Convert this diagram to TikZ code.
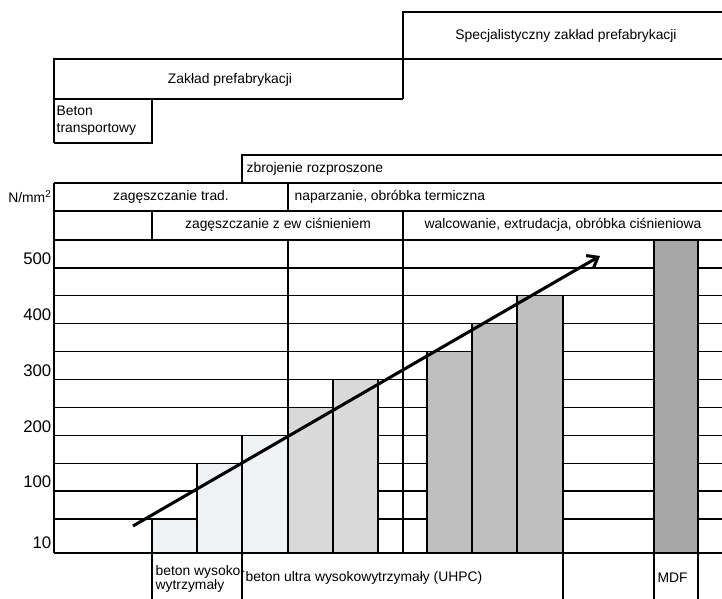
\documentclass[tikz,border=0pt]{standalone}
\usepackage{fontspec}
\setmainfont{Liberation Sans}
\usetikzlibrary{arrows.meta}
\definecolor{barlight}{HTML}{EEF2F3}
\definecolor{barmid}{HTML}{D9D9D9}
\definecolor{bardark}{HTML}{BFBFBF}
\definecolor{barmdf}{HTML}{A6A6A6}
\tikzset{
	lbl/.style={inner sep=0pt, font=\fontsize{10.4}{12.5}\selectfont},
	axislbl/.style={inner sep=0pt, anchor=east, font=\fontsize{12.6}{14}\selectfont},
	bar/.style={draw=black, line width=1pt},
	trend/.style={line width=2.3pt, -{Straight Barb[length=7pt,width=11pt]}}
}

\begin{document}
\begin{tikzpicture}[x=0.75pt, y=-0.75pt, line width=1pt]
		%%%%% START %%%%%
		\useasboundingbox (0,0) rectangle (722,599);
		
		% top boxes
		\draw (403,99) -- (403,12) -- (722,12);
		\draw (54,143) -- (54,59) -- (722,59);
		\draw (54,99) -- (403,99);
		\draw (54,143) -- (152,143) -- (152,99);
		
		\node[lbl] (spec) at (566,36) {Specjalistyczny zakład prefabrykacji};
		\node[lbl] (zaklad) at (230,80) {Zakład prefabrykacji};
		\node[lbl, anchor=west, align=left] (transp) at (56,121) {Beton\\transportowy};
		
		% header rows
		\draw (242,183) -- (242,155) -- (722,155);
		\draw (54,183) -- (722,183);
		\draw (54,211) -- (722,211);
		\draw (54,183) -- (54,240);
		\draw (288,183) -- (288,211);
		\draw (152,211) -- (152,240);
		\draw (403,211) -- (403,240);
		
		\node[lbl, anchor=west] (zbroj) at (246,169) {zbrojenie rozproszone};
		\node[lbl, anchor=east] (unit) at (52,197) {N/mm\textsuperscript{2}};
		\node[lbl] (zagtrad) at (171,197) {zagęszczanie trad.};
		\node[lbl, anchor=west] (napar) at (294,197) {naparzanie, obróbka termiczna};
		\node[lbl] (zagcis) at (278,225) {zagęszczanie z ew ciśnieniem};
		\node[lbl] (walc) at (563,225) {walcowanie, extrudacja, obróbka ciśnieniowa};
		
		% chart grid
		\draw[line width=1.4pt] (54,240) -- (722,240);
		\draw (54,267.9) -- (722,267.9);
		\draw (54,295.8) -- (722,295.8);
		\draw (54,323.7) -- (722,323.7);
		\draw (54,351.6) -- (722,351.6);
		\draw (54,379.5) -- (722,379.5);
		\draw (54,407.4) -- (722,407.4);
		\draw (54,435.3) -- (722,435.3);
		\draw (54,463.2) -- (722,463.2);
		\draw (54,491.1) -- (722,491.1);
		\draw (54,519) -- (722,519);
		\draw (54,553) -- (722,553);
		
		\draw (54,240) -- (54,553);
		\draw (288,240) -- (288,553);
		\draw (403,240) -- (403,553);
		
		% bars
		\draw[bar, fill=barlight] (152,519) rectangle (197,553);
		\draw[bar, fill=barlight] (197,463.2) rectangle (242,553);
		\draw[bar, fill=barlight] (242,435.3) rectangle (288,553);
		\draw[bar, fill=barmid] (288,407.4) rectangle (333,553);
		\draw[bar, fill=barmid] (333,379.5) rectangle (378,553);
		\draw[bar, fill=bardark] (427,351.6) rectangle (472,553);
		\draw[bar, fill=bardark] (472,323.7) rectangle (517,553);
		\draw[bar, fill=bardark] (517,295.8) rectangle (563,553);
		\draw[bar, fill=barmdf] (654,240) rectangle (698,553);
		
		\node[axislbl] (v500) at (52,259) {500};
		\node[axislbl] (v400) at (52,315) {400};
		\node[axislbl] (v300) at (52,371) {300};
		\node[axislbl] (v200) at (52,427) {200};
		\node[axislbl] (v100) at (52,482) {100};
		\node[axislbl] (v10) at (52,543) {10};
		
		% trend arrow
		\coordinate (trendA) at (133,526);
		\coordinate (trendB) at (600,256);
		\draw[trend] (trendA) -- (trendB);
		
		% bottom labels
		\draw (152,553) -- (152,599);
		\draw (242,553) -- (242,599);
		\draw (563,553) -- (563,599);
		\draw (654,553) -- (654,599);
		\draw (698,553) -- (698,599);
		
		\node[lbl, anchor=west, align=left] (hpc) at (155,579) {beton wysoko-\\[-1.5pt]wytrzymały};
		\node[lbl, anchor=west] (uhpc) at (245,578) {beton ultra wysokowytrzymały (UHPC)};
		\node[lbl, anchor=west] (mdf) at (657,578) {MDF};
		
		%%%%% END %%%%%
	\end{tikzpicture}
\end{document}
